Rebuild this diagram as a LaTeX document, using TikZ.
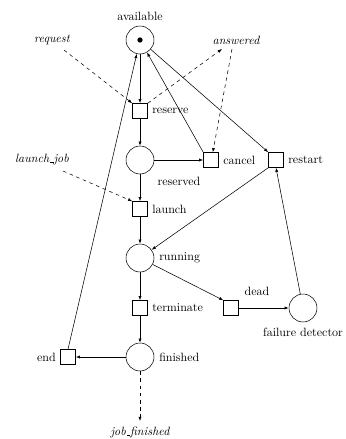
\documentclass[tikz,border=0pt]{standalone}
\usetikzlibrary{arrows.meta}
\newcommand\myusc{\leavevmode\kern0.06em\vbox{\hrule width0.3em}}
\begin{document}
\begin{tikzpicture}[x=0.8333pt,y=-0.8333pt,
  >={Latex[length=3.5pt,width=2.6pt]},
  every path/.style={line width=0.45pt},
  place/.style={circle,draw,minimum size=23.3pt,inner sep=0pt},
  trans/.style={rectangle,draw,minimum size=12.5pt,inner sep=0pt},
  lbl/.style={inner sep=0pt},
  lbr/.style={inner sep=0pt,anchor=west},
  lbl2/.style={inner sep=0pt,anchor=east},
  ext/.style={inner sep=0pt,font=\itshape},
  dsh/.style={dashed,->}]
\useasboundingbox (0,0) rectangle (346,439);
% places
\node[place] (available) at (140,40) {};
\fill (available.center) circle (2.2pt);
\node[place] (reserved) at (140,160) {};
\node[place] (running) at (140,258) {};
\node[place] (finished) at (140,357) {};
\node[place] (fd) at (303,308) {};
% transitions
\node[trans] (reserve) at (140,111) {};
\node[trans] (cancel) at (211,160) {};
\node[trans] (restart) at (276,160) {};
\node[trans] (launch) at (140,209) {};
\node[trans] (terminate) at (140,308) {};
\node[trans] (dead) at (231,308) {};
\node[trans] (end) at (68,357) {};
% labels
\node[lbl] (lavail) at (140,16) {available};
\node[lbr] (lreserve) at (152,111) {reserve};
\node[lbr] (lcancel) at (223,160) {cancel};
\node[lbr] (lrestart) at (288,160) {restart};
\node[lbl] (lreserved) at (179,181) {reserved};
\node[lbr] (llaunch) at (152,209) {launch};
\node[lbr] (lrunning) at (159,258) {running};
\node[lbr] (lterm) at (152,308) {terminate};
\node[lbl] (ldead) at (257,291) {dead};
\node[lbl] (lfd) at (303,332) {failure detector};
\node[lbr] (lfinished) at (159,357) {finished};
\node[lbl2] (lend) at (56,357) {end};
% external labels
\node[ext] (request) at (52,40) {request};
\node[ext] (answered) at (236,40) {answered};
\node[ext] (launchjob) at (42,160) {launch\myusc job};
\node[ext] (jobfinished) at (140,432) {job\myusc finished};
\coordinate (reqs) at (64,50);
\coordinate (anse) at (222,49);
\coordinate (anss) at (232,49);
\coordinate (ljs) at (63,171);
\coordinate (jfe) at (140,421);
% arcs
\draw[->] (available) -- (reserve);
\draw[->] (reserve) -- (reserved);
\draw[->] (reserved) -- (cancel);
\draw[->] (cancel.north west) -- (available);
\draw[->] (available) -- (restart.north west);
\draw[->] (restart.south west) -- (running);
\draw[->] (reserved) -- (launch);
\draw[->] (launch) -- (running);
\draw[->] (running) -- (terminate);
\draw[->] (terminate) -- (finished);
\draw[->] (running) -- (dead.north west);
\draw[->] (dead) -- (fd);
\draw[->] (fd) -- (restart.south);
\draw[->] (finished) -- (end);
\draw[->] (end.north) -- (available);
% dashed
\draw[dsh] (reqs) -- (reserve.north west);
\draw[dsh] (reserve.north east) -- (anse);
\draw[dsh] (anss) -- ([xshift=1.5pt]cancel.north);
\draw[dsh] (ljs) -- (launch.north west);
\draw[dsh] (finished) -- (jfe);
\end{tikzpicture}
\end{document}
